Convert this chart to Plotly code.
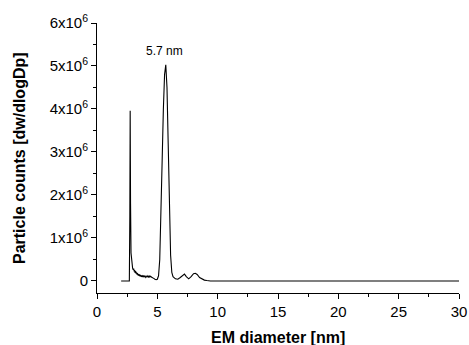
import plotly.graph_objects as go

# EM diameter [nm]
diameter = [2.0, 2.68, 2.72, 2.75, 2.78, 2.82, 2.86, 2.9, 2.95, 3.0, 3.04, 3.08, 3.12, 3.16,
            3.2, 3.24, 3.28, 3.32, 3.36, 3.4, 3.44, 3.48, 3.52, 3.56, 3.6, 3.65, 3.7, 3.75,
            3.8, 3.85, 3.9, 3.95, 4.0, 4.05, 4.1, 4.15, 4.2, 4.25, 4.3, 4.35, 4.4, 4.45,
            4.5, 4.6, 4.7, 4.8, 4.9, 5.0, 5.1, 5.2, 5.3, 5.4, 5.5, 5.6, 5.7, 5.8, 5.9, 6.0,
            6.1, 6.2, 6.3, 6.5, 6.7, 6.9, 7.1, 7.25, 7.4, 7.6, 7.8, 8.0, 8.15, 8.3, 8.5,
            8.7, 8.9, 9.1, 9.4, 12.0, 20.0, 30.0]
# Particle counts in units of 10^6
counts_e6 = [0.0, 0.0, 1.5, 3.96, 1.8, 0.65, 0.45, 0.36, 0.30, 0.26, 0.29, 0.22, 0.25, 0.19,
             0.23, 0.17, 0.20, 0.15, 0.18, 0.13, 0.16, 0.12, 0.15, 0.11, 0.14, 0.10, 0.13,
             0.09, 0.12, 0.10, 0.13, 0.09, 0.11, 0.08, 0.10, 0.12, 0.09, 0.11, 0.08, 0.12,
             0.10, 0.11, 0.09, 0.08, 0.06, 0.04, 0.03, 0.04, 0.12, 0.50, 1.40, 2.80, 4.00,
             4.80, 5.03, 4.50, 3.20, 1.70, 0.60, 0.20, 0.10, 0.05, 0.04, 0.08, 0.14, 0.16,
             0.10, 0.05, 0.10, 0.17, 0.18, 0.15, 0.08, 0.04, 0.02, 0.01, 0.0, 0.0, 0.0, 0.0]

y_tickvals = [0, 1, 2, 3, 4, 5, 6]
y_ticktext = ["0"] + [f"{v}x10<sup>6</sup>" for v in y_tickvals[1:]]
x_tickvals = [0, 5, 10, 15, 20, 25, 30]

FONT = "Liberation Sans, Arial, sans-serif"

fig = go.Figure()
fig.add_trace(go.Scatter(x=diameter, y=counts_e6, mode="lines",
                         line=dict(color="black", width=1.1), showlegend=False,
                         hoverinfo="skip"))

fig.add_annotation(x=5.57, y=5.34, text="5.7 nm", showarrow=False,
                   font=dict(family=FONT, size=12, color="black"))

# axis titles
fig.add_annotation(xref="paper", yref="paper", x=0.5, y=0, yshift=-44,
                   text="<b>EM diameter [nm]</b>", showarrow=False,
                   xanchor="center", yanchor="middle",
                   font=dict(family=FONT, size=16, color="black"))
fig.add_annotation(xref="paper", yref="paper", x=0, y=0.5, xshift=-78,
                   text="<b>Particle counts [dw/dlogDp]</b>", showarrow=False,
                   textangle=-90, xanchor="center", yanchor="middle",
                   font=dict(family=FONT, size=16, color="black"))

fig.update_layout(
    width=469, height=345,
    margin=dict(l=97, r=10, t=23, b=52),
    paper_bgcolor="white", plot_bgcolor="white",
    font=dict(family=FONT, color="black"),
    xaxis=dict(
        range=[0, 30], tickvals=x_tickvals, showline=True, linecolor="black",
        linewidth=1, ticks="outside", ticklen=5, tickcolor="black", showgrid=False,
        zeroline=False, automargin=False,
        tickfont=dict(family=FONT, size=15, color="black"),
        minor=dict(dtick=2.5, ticks="outside", ticklen=3, tickcolor="black"),
    ),
    yaxis=dict(
        range=[-0.28, 6], tickvals=y_tickvals, ticktext=y_ticktext, showline=True,
        linecolor="black", linewidth=1, ticks="outside", ticklen=5, tickcolor="black",
        showgrid=False, zeroline=False, automargin=False,
        tickfont=dict(family=FONT, size=15, color="black"),
        minor=dict(tickvals=[0.5, 1.5, 2.5, 3.5, 4.5, 5.5], ticks="outside", ticklen=3,
                   tickcolor="black"),
    ),
)

fig.write_html("out.html", config={"displayModeBar": False},
               post_script="document.body.style.margin='0';")
